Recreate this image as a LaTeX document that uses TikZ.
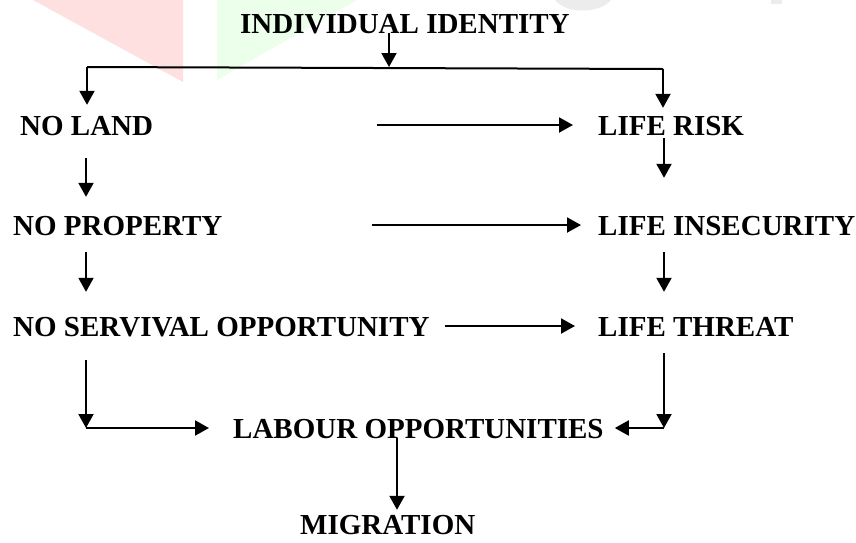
\documentclass[tikz,border=0pt]{standalone}
\usepackage{fontspec}
\setmainfont{Liberation Serif}
\usepackage{tikz}
\usetikzlibrary{arrows.meta, positioning}

\begin{document}
\begin{tikzpicture}[
        x=1pt, y=-1pt,
        lbl/.style={inner sep=0pt, anchor=west, text height=20pt, text depth=0pt, font=\bfseries\fontsize{29}{34}\selectfont},
        line/.style={line width=2pt},
        arrow/.style={line, -{Triangle[length=14pt, width=15pt]}}
    ]
        \useasboundingbox (0,0) rectangle (856,542);

        % Watermark (faint)
        \fill[red!12] (33,0) -- (183,0) -- (183,82) -- cycle;
        \fill[green!8] (217,0) -- (357,0) -- (217,80) -- cycle;
        \fill[gray!15] (555,0) -- (611,0) .. controls (600,14) and (566,14) .. (555,0) -- cycle;
        \fill[gray!15] (771,0) rectangle (782,4);

        % Top
        \node[lbl] (ident) at (240,23) {INDIVIDUAL IDENTITY};

        % Left Column
        \node[lbl] (land) at (20,125) {NO LAND};
        \node[lbl] (prop) at (13,225) {NO PROPERTY};
        \node[lbl] (serv) at (13,326) {NO SERVIVAL OPPORTUNITY};

        % Right Column
        \node[lbl] (risk) at (598,125) {LIFE RISK};
        \node[lbl] (insec) at (598,225) {LIFE INSECURITY};
        \node[lbl] (threat) at (598,326) {LIFE THREAT};

        % Bottom
        \node[lbl] (labour) at (233,428) {LABOUR OPPORTUNITIES};
        \node[lbl] (migr) at (300,524) {MIGRATION};

        % Helper coordinates
        \coordinate (split) at (389,67);
        \coordinate (jl) at (87,67);
        \coordinate (jr) at (663,69);
        \coordinate (colL) at (86,0);
        \coordinate (colR) at (664,0);
        \coordinate (colM) at (397,0);

        % Connections
        % Split
        \draw[arrow] (split |- ident.south) -- (split);
        \draw[line] (jl) -- (jr);
        \draw[arrow, shorten >=10pt] (jl) -- (jl |- land.north);
        \draw[arrow, shorten >=7pt] (jr) -- (jr |- risk.north);

        % Rows
        \draw[arrow, shorten <=224pt, shorten >=25pt] (land) -- (risk);
        \draw[arrow, shorten <=149pt, shorten >=17pt] (prop) -- (insec);
        \draw[arrow, shorten <=15pt, shorten >=23pt] (serv) -- (threat);

        % Left Path
        \draw[arrow, shorten <=23pt, shorten >=18pt] (colL |- land.south) -- (colL |- prop.north);
        \draw[arrow, shorten <=17pt, shorten >=24pt] (colL |- prop.south) -- (colL |- serv.north);
        \draw[arrow, shorten <=24pt] (colL |- serv.south) -- (colL |- labour.west);
        \draw[arrow, shorten >=24pt] (colL |- labour.west) -- (labour.west);

        % Right Path
        \draw[arrow, shorten <=3pt, shorten >=37pt] (colR |- risk.south) -- (colR |- insec.north);
        \draw[arrow, shorten <=17pt, shorten >=24pt] (colR |- insec.south) -- (colR |- threat.north);
        \draw[arrow, shorten <=17pt] (colR |- threat.south) -- (colR |- labour.east);
        \draw[arrow, shorten >=11pt] (colR |- labour.east) -- (labour.east);

        % Outcome
        \draw[arrow, shorten >=4pt] (colM |- labour.south) -- (colM |- migr.north);

    \end{tikzpicture}
\end{document}
